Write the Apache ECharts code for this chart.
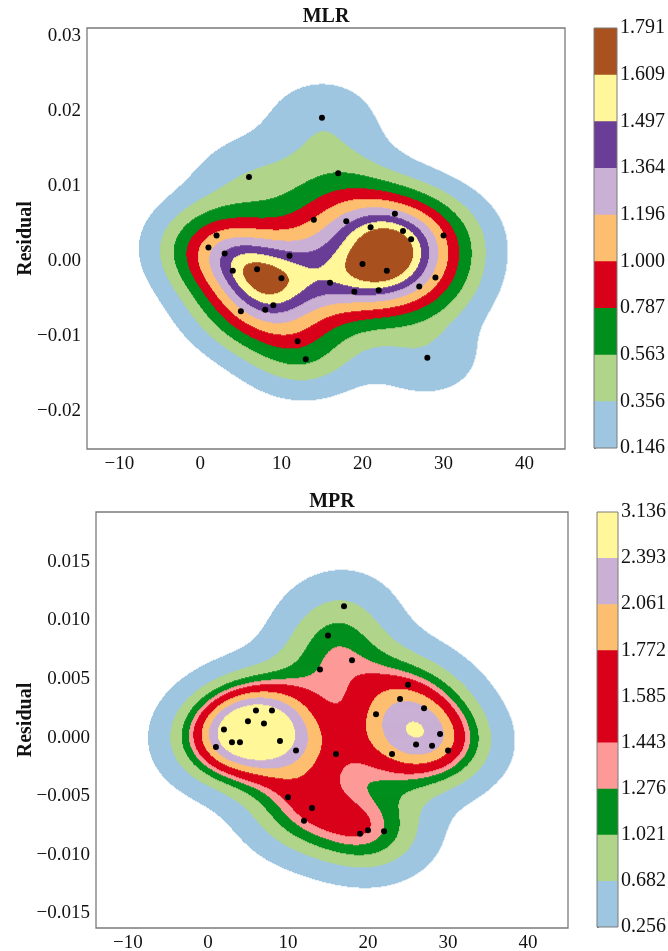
<!DOCTYPE html>
<html><head><meta charset="utf-8">
<script src="https://cdn.jsdelivr.net/npm/echarts@6/dist/echarts.min.js"></script>
<style>html,body{margin:0;padding:0;background:#fff}#c{width:668px;height:951px}</style>
</head><body><div id="c"></div>
<script>
// ---- data ----
const sampleX = [1,2,3,4,5,6,7,8,9,10,11,12,13,14,15,16,17,18,19,20,21,22,23,24,25,26,27,28,29,30];
const mlrResidual = [0.0018,0.0034,0.0010,-0.0013,-0.0067,0.0112,-0.0011,-0.0065,-0.0059,-0.0023,0.0007,-0.0107,-0.0131,0.0055,0.0191,-0.0029,0.0117,0.0053,-0.0041,-0.0004,0.0045,-0.0039,-0.0013,0.0063,0.0040,0.0029,-0.0034,-0.0129,-0.0022,0.0034];
const mprResidual = [-0.0008,0.0007,-0.0004,-0.0004,0.0014,0.0023,0.0012,0.0023,-0.0003,-0.0051,-0.0011,-0.0071,-0.0060,0.0058,0.0087,-0.0014,0.0112,0.0066,-0.0082,-0.0079,0.0020,-0.0080,-0.0014,0.0033,0.0045,-0.0006,0.0025,-0.0007,0.0003,-0.0011];
const mlrLevels = [0.146,0.356,0.563,0.787,1.000,1.196,1.364,1.497,1.609,1.791];
const mprLevels = [0.256,0.682,1.021,1.276,1.443,1.585,1.772,2.061,2.393,3.136];
const titles = ['MLR','MPR'];
const yName = 'Residual';

// ---- styles ----
const FONT = '"Liberation Serif","Times New Roman",serif';
const mlrColors = ['#9fc6e0','#afd48a','#008e1c','#d9001a','#fdbf6f','#cab0d4','#6a3d96','#fff799','#a9521f'];
const mprColors = ['#9fc6e0','#afd48a','#008e1c','#fd9a98','#d9001a','#d9001a','#fdbf6f','#cab0d4','#fff799'];
const frame = '#7a7a7a';

// ---- gaussian KDE (scott bandwidth, full covariance) ----
function makeKde(xs, ys) {
  const n = xs.length;
  let mx = 0, my = 0;
  for (let i = 0; i < n; i++) { mx += xs[i]; my += ys[i]; }
  mx /= n; my /= n;
  let sxx = 0, syy = 0, sxy = 0;
  for (let i = 0; i < n; i++) {
    const a = xs[i] - mx, b = ys[i] - my;
    sxx += a * a; syy += b * b; sxy += a * b;
  }
  sxx /= (n - 1); syy /= (n - 1); sxy /= (n - 1);
  const f2 = Math.pow(n, -1 / 3);
  const cxx = sxx * f2, cyy = syy * f2, cxy = sxy * f2;
  const det = cxx * cyy - cxy * cxy;
  const ixx = cyy / det, iyy = cxx / det, ixy = -cxy / det;
  const norm = 1 / (n * 2 * Math.PI * Math.sqrt(det));
  return {
    bwx: Math.sqrt(cxx), bwy: Math.sqrt(cyy),
    pdf(x, y) {
      let s = 0;
      for (let i = 0; i < n; i++) {
        const dx = x - xs[i], dy = y - ys[i];
        s += Math.exp(-0.5 * (ixx * dx * dx + 2 * ixy * dx * dy + iyy * dy * dy));
      }
      return s * norm;
    }
  };
}
function extentOf(xs, ys, kde) {
  return {
    x0: Math.min(...xs) - 3 * kde.bwx, x1: Math.max(...xs) + 3 * kde.bwx,
    y0: Math.min(...ys) - 3 * kde.bwy, y1: Math.max(...ys) + 3 * kde.bwy
  };
}
function bandOf(d, levels) {
  for (let k = levels.length - 2; k >= 0; k--) if (d >= levels[k]) return k;
  return -1;
}
function bandRuns(kde, ext, levels, nx, ny) {
  const runs = [];
  const dx = (ext.x1 - ext.x0) / nx, dy = (ext.y1 - ext.y0) / ny;
  for (let j = 0; j < ny; j++) {
    const yc = ext.y0 + (j + 0.5) * dy;
    let cur = -1, start = 0;
    for (let i = 0; i <= nx; i++) {
      let b = -1;
      if (i < nx) b = bandOf(kde.pdf(ext.x0 + (i + 0.5) * dx, yc), levels);
      if (b !== cur || i === nx) {
        if (cur >= 0) runs.push([ext.x0 + start * dx, ext.x0 + i * dx, ext.y0 + j * dy, ext.y0 + (j + 1) * dy, cur]);
        cur = b; start = i;
      }
    }
  }
  return runs;
}
const minus = s => s.replace('-', '\u2212');
function fmt(v, d) { if (Math.abs(v) < 1e-12) v = 0; return minus(v.toFixed(d)); }

const kde1 = makeKde(sampleX, mlrResidual);
const kde2 = makeKde(sampleX, mprResidual);
const ext1 = extentOf(sampleX, mlrResidual, kde1);
const ext2 = extentOf(sampleX, mprResidual, kde2);

const G = [
  {left: 87, top: 28, width: 478, height: 421},
  {left: 96, top: 512, width: 472, height: 416}
];
const CB = [
  {left: 594, top: 28, width: 23, height: 420},
  {left: 597, top: 512, width: 21, height: 415}
];
const runs1 = bandRuns(kde1, ext1, mlrLevels, G[0].width, G[0].height);
const runs2 = bandRuns(kde2, ext2, mprLevels, G[1].width, G[1].height);

function bandRenderer(colors) {
  return function (params, api) {
    const p0 = api.coord([api.value(0), api.value(3)]);
    const p1 = api.coord([api.value(1), api.value(2)]);
    return {type: 'rect', shape: {x: p0[0], y: p0[1] - 0.3, width: p1[0] - p0[0] + 0.3, height: p1[1] - p0[1] + 0.6},
      style: {fill: colors[api.value(4)]}};
  };
}
function cbRenderer(colors) {
  return function (params, api) {
    const k = api.value(0);
    const p0 = api.coord([0, k + 1]);
    const p1 = api.coord([1, k]);
    const top = k === colors.length - 1 ? p0[1] : p0[1] - 1;
    return {type: 'rect', shape: {x: p0[0], y: top, width: p1[0] - p0[0], height: p1[1] - top},
      style: {fill: colors[k]}};
  };
}

const tickFont = {fontFamily: FONT, fontSize: 19, color: '#111'};
const grids = [], xAxes = [], yAxes = [], series = [];
[[ext1, 2, 5, runs1, mlrColors, mlrResidual, mlrLevels], [ext2, 3, 7, runs2, mprColors, mprResidual, mprLevels]].forEach((cfg, p) => {
  const [ext, dec, ysplit, runs, colors, resid, levels] = cfg;
  grids.push(Object.assign({show: true, borderColor: frame, borderWidth: 1.3, containLabel: false, outerBoundsMode: 'none', backgroundColor: '#fff'}, G[p]));
  grids.push(Object.assign({show: false, containLabel: false, outerBoundsMode: 'none'}, CB[p]));
  xAxes.push({type: 'value', gridIndex: 2 * p, min: ext.x0, max: ext.x1, splitNumber: 6,
    axisLine: {show: false}, axisTick: {show: false}, splitLine: {show: false},
    axisLabel: Object.assign({margin: 6, showMinLabel: false, showMaxLabel: false, formatter: v => fmt(v, 0)}, tickFont)});
  yAxes.push({type: 'value', gridIndex: 2 * p, min: ext.y0, max: ext.y1, splitNumber: ysplit,
    name: yName, nameLocation: 'middle', nameRotate: 90, nameGap: p === 0 ? 51 : 60, nameMoveOverlap: false,
    nameTextStyle: {fontFamily: FONT, fontSize: 20, fontWeight: 'bold', color: '#111'},
    axisLine: {show: false}, axisTick: {show: false}, splitLine: {show: false},
    axisLabel: Object.assign({margin: 6, showMinLabel: false, showMaxLabel: false, formatter: v => fmt(v, dec)}, tickFont)});
  xAxes.push({type: 'value', gridIndex: 2 * p + 1, min: 0, max: 1, show: false});
  yAxes.push({type: 'value', gridIndex: 2 * p + 1, min: 0, max: levels.length - 1, interval: 1, position: 'right',
    axisLine: {show: false}, splitLine: {show: false},
    axisTick: {show: true, length: 2, lineStyle: {color: frame}},
    axisLabel: Object.assign({margin: 3, formatter: v => levels[Math.round(v)].toFixed(3)}, tickFont, {fontSize: 20})});
  series.push({type: 'custom', xAxisIndex: 2 * p, yAxisIndex: 2 * p, data: runs, renderItem: bandRenderer(colors),
    silent: true, animation: false, progressive: 0, clip: true});
  series.push({type: 'scatter', xAxisIndex: 2 * p, yAxisIndex: 2 * p, data: sampleX.map((x, i) => [x, resid[i]]),
    symbol: 'circle', symbolSize: 6, itemStyle: {color: '#000', opacity: 1}, silent: true, animation: false, z: 5});
  series.push({type: 'custom', xAxisIndex: 2 * p + 1, yAxisIndex: 2 * p + 1,
    data: levels.slice(0, -1).map((_, k) => [k]), renderItem: cbRenderer(colors), silent: true, animation: false});
});

const chart = echarts.init(document.getElementById('c'), null, {renderer: 'canvas'});
chart.setOption({
  backgroundColor: '#fff',
  animation: false,
  title: titles.map((t, p) => ({text: t, left: G[p].left + G[p].width / 2, top: p === 0 ? 7 : 492, textAlign: 'center', padding: 0,
    textStyle: {fontFamily: FONT, fontSize: 20, fontWeight: 'bold', color: '#111'}})),
  grid: grids, xAxis: xAxes, yAxis: yAxes, series: series,
  graphic: CB.map(c => ({type: 'rect', silent: true, z: 100,
    shape: {x: c.left, y: c.top, width: c.width, height: c.height},
    style: {fill: 'none', stroke: frame, lineWidth: 1}}))
});
</script></body></html>
